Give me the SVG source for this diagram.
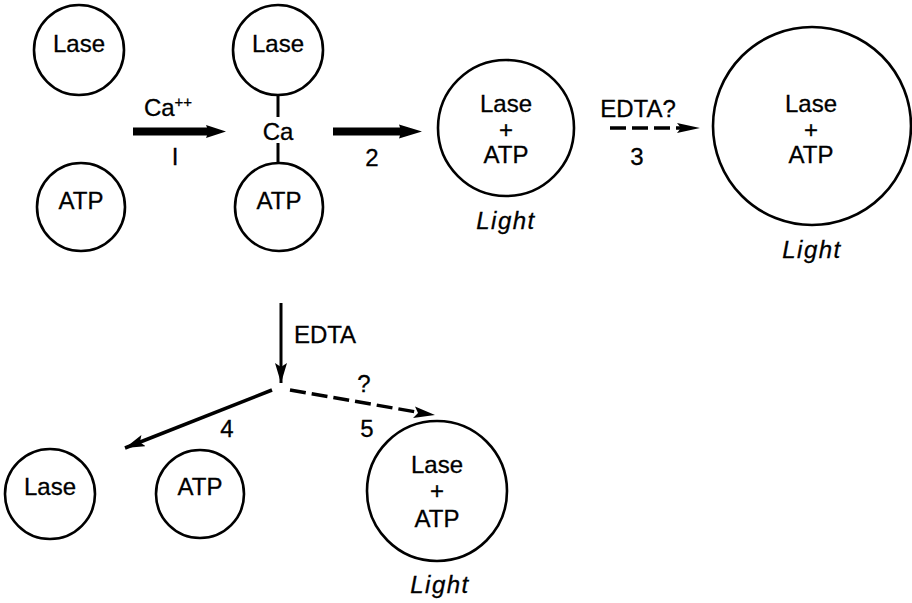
<svg xmlns="http://www.w3.org/2000/svg" width="912" height="603" viewBox="0 0 912 603">
<defs>
<style>
.c{fill:none;stroke:#000;stroke-width:2.6}
.t{font-family:"Liberation Sans",Arial,sans-serif;font-size:24px;fill:#000;text-anchor:middle;stroke:#000;stroke-width:0.3}
.i{font-style:italic;letter-spacing:1.5px}
.ln{stroke:#000;stroke-width:3;fill:none}
.dash{stroke:#000;stroke-width:3.5;fill:none;stroke-dasharray:16 6}
</style>
<marker id="ah" viewBox="0 0 20 12" refX="20" refY="6" markerWidth="20" markerHeight="12" markerUnits="userSpaceOnUse" orient="auto">
<path d="M0,0 L20,6 L0,12 L4,6 Z" fill="#000"/>
</marker>
</defs>
<rect width="912" height="603" fill="#fff"/>
<g id="n1"><circle class="c" cx="79" cy="50" r="45"/><text class="t" x="79" y="52">Lase</text></g>
<g id="n2"><circle class="c" cx="81" cy="207" r="44"/><text class="t" x="81" y="209">ATP</text></g>
<g id="n3"><circle class="c" cx="278" cy="50" r="45"/><text class="t" x="278" y="52">Lase</text></g>
<g id="n3ca"><text class="t" x="278" y="140">Ca</text></g>
<g id="n4"><circle class="c" cx="279" cy="207" r="44"/><text class="t" x="279" y="209">ATP</text></g>
<g id="n5"><circle class="c" cx="506" cy="128" r="68"/><text class="t" x="506" y="112">Lase</text><text class="t" x="506" y="138">+</text><text class="t" x="506" y="163">ATP</text><text class="t i" x="506" y="229">Light</text></g>
<g id="n6"><circle class="c" cx="812" cy="126" r="99"/><text class="t" x="811" y="112">Lase</text><text class="t" x="811" y="138">+</text><text class="t" x="811" y="163">ATP</text><text class="t i" x="812" y="258">Light</text></g>
<g id="n7"><circle class="c" cx="50" cy="494" r="45"/><text class="t" x="50" y="495">Lase</text></g>
<g id="n8"><circle class="c" cx="200" cy="494" r="44"/><text class="t" x="200" y="495">ATP</text></g>
<g id="n9"><circle class="c" cx="437" cy="491" r="70"/><text class="t" x="437" y="473">Lase</text><text class="t" x="437" y="499">+</text><text class="t" x="437" y="527">ATP</text><text class="t i" x="440" y="593">Light</text></g>
<g id="connectors">
<line class="ln" x1="278" y1="95" x2="278" y2="117"/>
<line class="ln" x1="278" y1="143" x2="278" y2="163"/>
<polygon points="133,127.5 207,127.5 206,125 226,131.5 206,138 207,135.5 133,135.5" fill="#000"/>
<polygon points="333,127.5 400,127.5 399,124.5 422,131.5 399,138.5 400,135.5 333,135.5" fill="#000"/>
<line class="dash" x1="610" y1="128" x2="682" y2="128"/>
<path d="M677,123 L700,128 L677,133 L681,128 Z" fill="#000"/>
<line class="ln" x1="281" y1="303" x2="281" y2="383" marker-end="url(#ah)"/>
<line class="ln" x1="272" y1="390" x2="125" y2="448" marker-end="url(#ah)" style="stroke-width:3.5"/>
<line class="dash" x1="290" y1="390" x2="422" y2="413"/>
<path d="M415,406.5 L435,415 L413,418 L418,413 Z" fill="#000"/>
</g>
<g id="labels">
<text class="t" x="168" y="116">Ca<tspan font-size="15" dy="-9">++</tspan></text>
<text class="t" x="175" y="165">I</text>
<text class="t" x="372" y="166">2</text>
<text class="t" x="638" y="117">EDTA?</text>
<text class="t" x="637" y="165">3</text>
<text class="t" x="325" y="343">EDTA</text>
<text class="t" x="364" y="392">?</text>
<text class="t" x="227" y="437">4</text>
<text class="t" x="367" y="437">5</text>
</g>
</svg>
